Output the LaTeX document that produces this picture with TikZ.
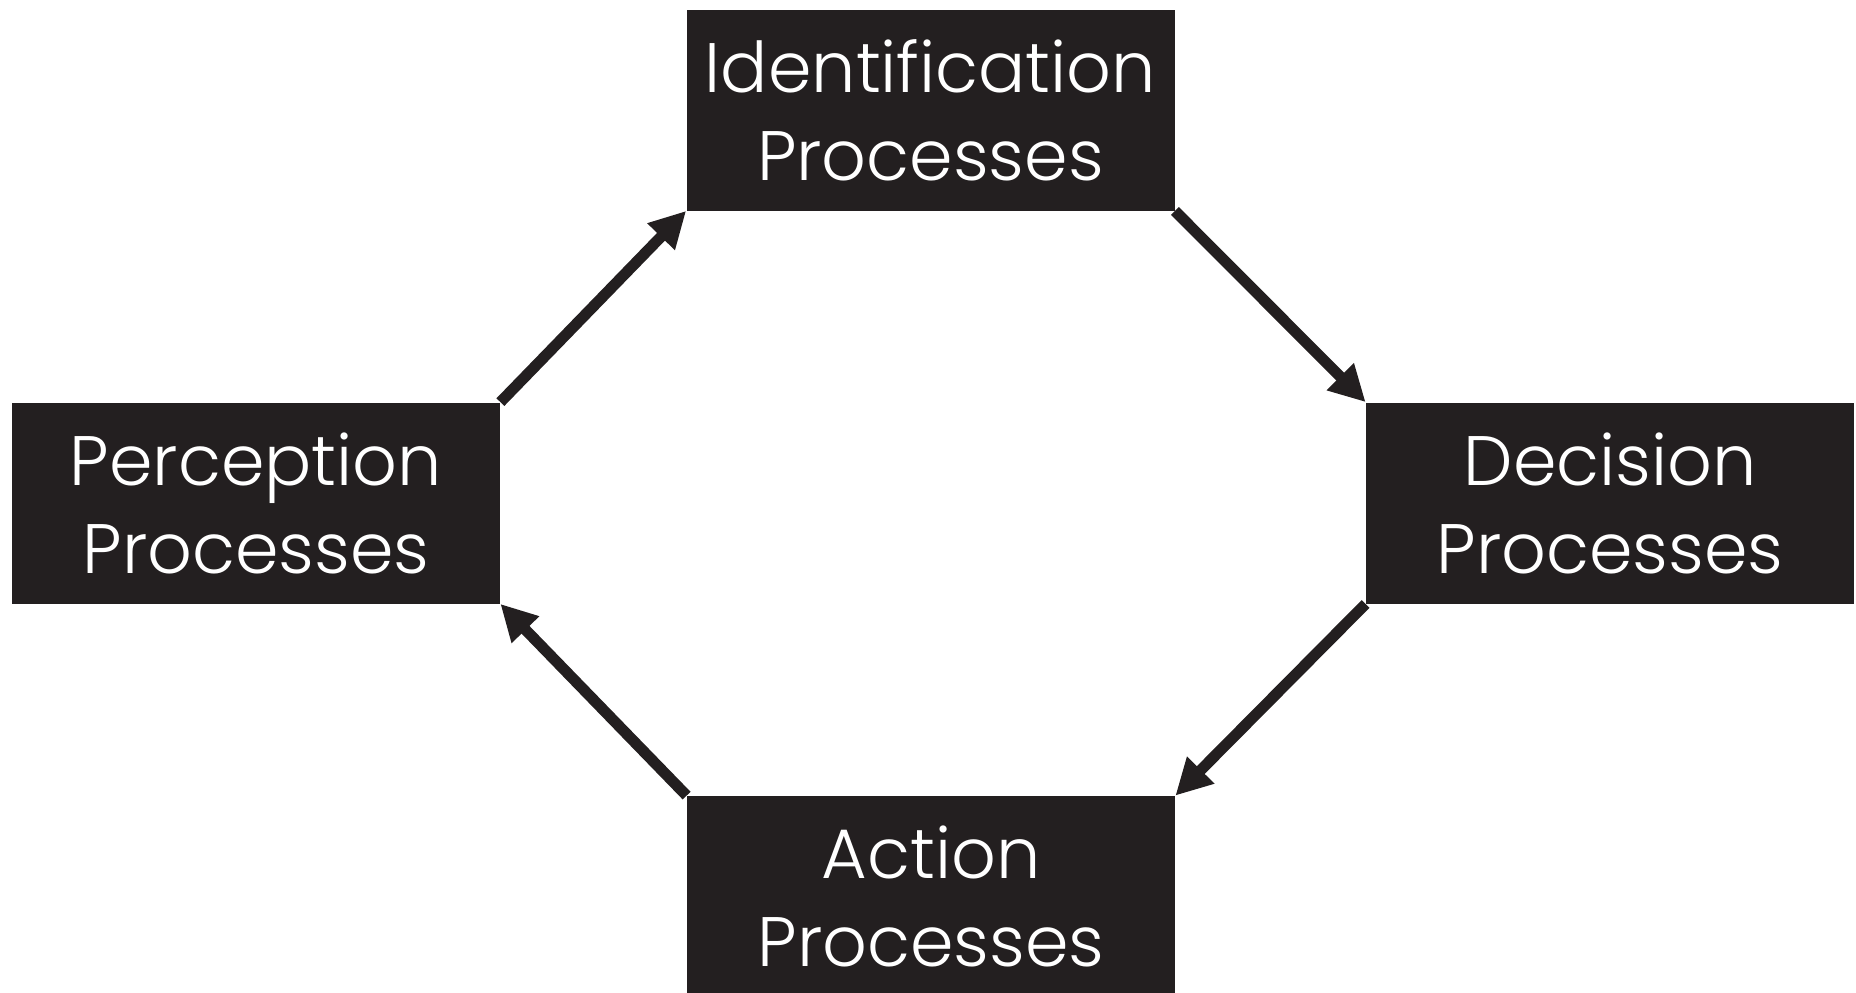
\documentclass[tikz,border=0pt]{standalone}
\usepackage{fontspec}
\setmainfont{Poppins}[UprightFont=* Light]
\usetikzlibrary{arrows.meta}
\definecolor{boxblack}{HTML}{231F20}

\begin{document}
\begin{tikzpicture}[x=0.5pt, y=-0.5pt]
\tikzset{procbox/.style={fill=boxblack, text=white, inner sep=0pt, align=center,
  minimum width=244pt, minimum height=100.5pt, font=\fontsize{35}{44}\selectfont},
  flow/.style={draw=boxblack, line width=5.5pt, -{Triangle[length=18pt, width=18pt]}}}
\useasboundingbox (0, 0) rectangle (1856, 992);
\clip (0, 0) rectangle (1856, 992);
\node[procbox] (ident) at (930.5, 110) {Identification\\Processes};
\node[procbox] (perc) at (256, 503) {Perception\\Processes};
\node[procbox] (dec) at (1610, 503) {Decision\\Processes};
\node[procbox] (act) at (931, 896.5) {Action\\Processes};
\draw[flow] (perc.north east) -- (ident.south west);
\draw[flow] (ident.south east) -- (dec.north west);
\draw[flow] (dec.south west) -- (act.north east);
\draw[flow] (act.north west) -- (perc.south east);
\end{tikzpicture}
\end{document}
